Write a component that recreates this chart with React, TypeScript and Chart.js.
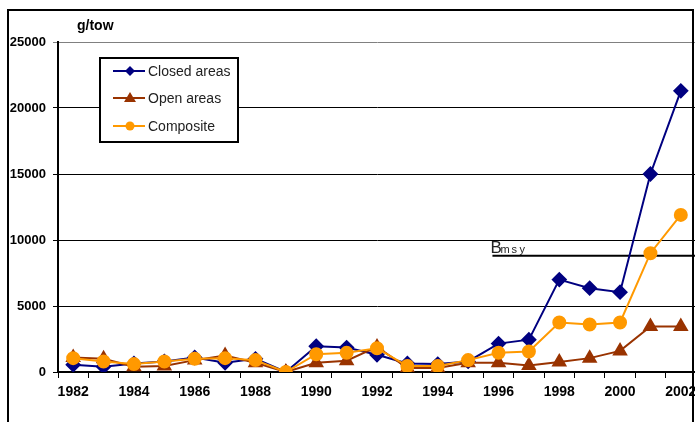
import React, { useEffect, useRef } from "react";
import { Chart, registerables } from "chart.js";
Chart.register(...registerables);

const YEARS = ["1982","1983","1984","1985","1986","1987","1988","1989","1990","1991","1992","1993","1994","1995","1996","1997","1998","1999","2000","2001","2002"];
const CLOSED = [550, 400, 650, 800, 1100, 700, 1000, 0, 1950, 1850, 1300, 650, 600, 800, 2150, 2450, 7000, 6350, 6050, 15000, 21300];
const OPEN = [1100, 1000, 400, 450, 900, 1250, 700, 0, 700, 850, 1900, 300, 300, 700, 700, 500, 750, 1050, 1600, 3450, 3450];
const COMPOSITE = [1050, 800, 600, 800, 1000, 1050, 900, 0, 1350, 1450, 1800, 450, 450, 900, 1450, 1550, 3750, 3600, 3750, 9000, 11900];
const BMSY = 8800;
const BMSY_START = 13.8;
const Y_MAX = 25000;
const Y_STEP = 5000;
const SERIES_NAMES = ["Closed areas", "Open areas", "Composite"];
const UNIT_LABEL = "g/tow";

const NAVY = "#000080";
const BROWN = "#993300";
const ORANGE = "#FF9900";
const FONT = "'Liberation Sans', Arial, sans-serif";

const decor = {
  id: "decor",
  beforeDatasetsDraw(chart: any) {
    const { ctx, scales } = chart;
    const x0 = scales.x.getPixelForValue(BMSY_START);
    const y = scales.y.getPixelForValue(BMSY);
    ctx.save();
    ctx.strokeStyle = "#000";
    ctx.lineWidth = 2;
    ctx.beginPath();
    ctx.moveTo(x0, y);
    ctx.lineTo(700, y);
    ctx.stroke();
    ctx.fillStyle = "#222";
    ctx.textBaseline = "alphabetic";
    ctx.textAlign = "left";
    ctx.font = `17px ${FONT}`;
    ctx.fillText("B", x0 - 2, y - 3);
    ctx.font = `11px ${FONT}`;
    const offs = [8, 19, 27];
    "msy".split("").forEach((ch, i) => ctx.fillText(ch, x0 + offs[i], y - 3));
    ctx.restore();
  },
  afterDraw(chart: any) {
    const { ctx } = chart;
    ctx.save();
    // frame
    ctx.strokeStyle = "#000";
    ctx.lineWidth = 2;
    ctx.beginPath();
    ctx.moveTo(8, 440);
    ctx.lineTo(8, 10);
    ctx.lineTo(693, 10);
    ctx.lineTo(693, 440);
    ctx.stroke();
    // unit label
    ctx.fillStyle = "#000";
    ctx.font = `bold 14px ${FONT}`;
    ctx.textBaseline = "middle";
    ctx.fillText(UNIT_LABEL, 77, 26);
    // legend
    ctx.fillStyle = "#fff";
    ctx.fillRect(100, 58, 138, 84);
    ctx.lineWidth = 2;
    ctx.strokeRect(100, 58, 138, 84);
    const rows = [71, 98, 126];
    const colors = [NAVY, BROWN, ORANGE];
    rows.forEach((ry, i) => {
      ctx.strokeStyle = colors[i];
      ctx.fillStyle = colors[i];
      ctx.lineWidth = 2;
      ctx.beginPath();
      ctx.moveTo(113, ry);
      ctx.lineTo(145, ry);
      ctx.stroke();
      ctx.beginPath();
      if (i === 0) {
        ctx.moveTo(130, ry - 5); ctx.lineTo(135, ry); ctx.lineTo(130, ry + 5); ctx.lineTo(125, ry);
      } else if (i === 1) {
        ctx.moveTo(130, ry - 6); ctx.lineTo(136, ry + 4); ctx.lineTo(124, ry + 4);
      } else {
        ctx.arc(130, ry, 4.5, 0, Math.PI * 2);
      }
      ctx.closePath();
      ctx.fill();
      ctx.fillStyle = "#222";
      ctx.font = `14px ${FONT}`;
      ctx.textBaseline = "middle";
      ctx.fillText(SERIES_NAMES[i], 148, ry + 1);
    });
    ctx.restore();
  },
};

export default function App() {
  const ref = useRef<HTMLCanvasElement>(null);
  useEffect(() => {
    const chart = new Chart(ref.current!, {
      type: "line",
      data: {
        labels: YEARS,
        datasets: [
          { label: SERIES_NAMES[0], data: CLOSED, borderColor: NAVY, backgroundColor: NAVY, borderWidth: 2, pointStyle: "rectRot", pointRadius: 6.5, order: 2 },
          { label: SERIES_NAMES[1], data: OPEN, borderColor: BROWN, backgroundColor: BROWN, borderWidth: 2, pointStyle: "triangle", pointRadius: 7, order: 1 },
          { label: SERIES_NAMES[2], data: COMPOSITE, borderColor: ORANGE, backgroundColor: ORANGE, borderWidth: 2, pointStyle: "circle", pointRadius: 6, order: 0 },
        ],
      },
      options: {
        responsive: false,
        animation: false,
        devicePixelRatio: 1,
        layout: { padding: { left: 0, top: 42, right: 24, bottom: 28 } },
        plugins: { legend: { display: false }, tooltip: { enabled: false }, title: { display: false } },
        elements: { line: { tension: 0 } },
        scales: {
          x: {
            type: "category",
            offset: true,
            afterFit: (s: any) => { s.height = 40; },
            grid: { offset: true, drawOnChartArea: false, tickLength: 6, color: "#000", lineWidth: 1 },
            border: { color: "#000", width: 2 },
            ticks: {
              autoSkip: false, maxRotation: 0, minRotation: 0, padding: 6,
              color: "#000", font: { family: FONT, size: 14, weight: "bold" },
              callback: (_v: any, i: number) => (i % 2 === 0 ? YEARS[i] : ""),
            },
          },
          y: {
            min: 0, max: Y_MAX,
            afterFit: (s: any) => { s.width = 58; },
            grid: {
              tickLength: 5, lineWidth: 1,
              color: (c: any) => (c.tick && c.tick.value === Y_MAX ? "#808080" : "#000"),
            },
            border: { color: "#000", width: 2 },
            ticks: {
              stepSize: Y_STEP, padding: 7, color: "#000",
              font: { family: FONT, size: 13, weight: "bold" },
              callback: (v: any) => String(v),
            },
          },
        },
      },
      plugins: [decor],
    } as any);
    return () => chart.destroy();
  }, []);
  return (
    <div style={{ position: "fixed", left: 0, top: 0, width: 695, height: 422, overflow: "hidden", background: "#fff" }}>
      <canvas ref={ref} width={720} height={440} style={{ display: "block", width: 720, height: 440 }} />
    </div>
  );
}
